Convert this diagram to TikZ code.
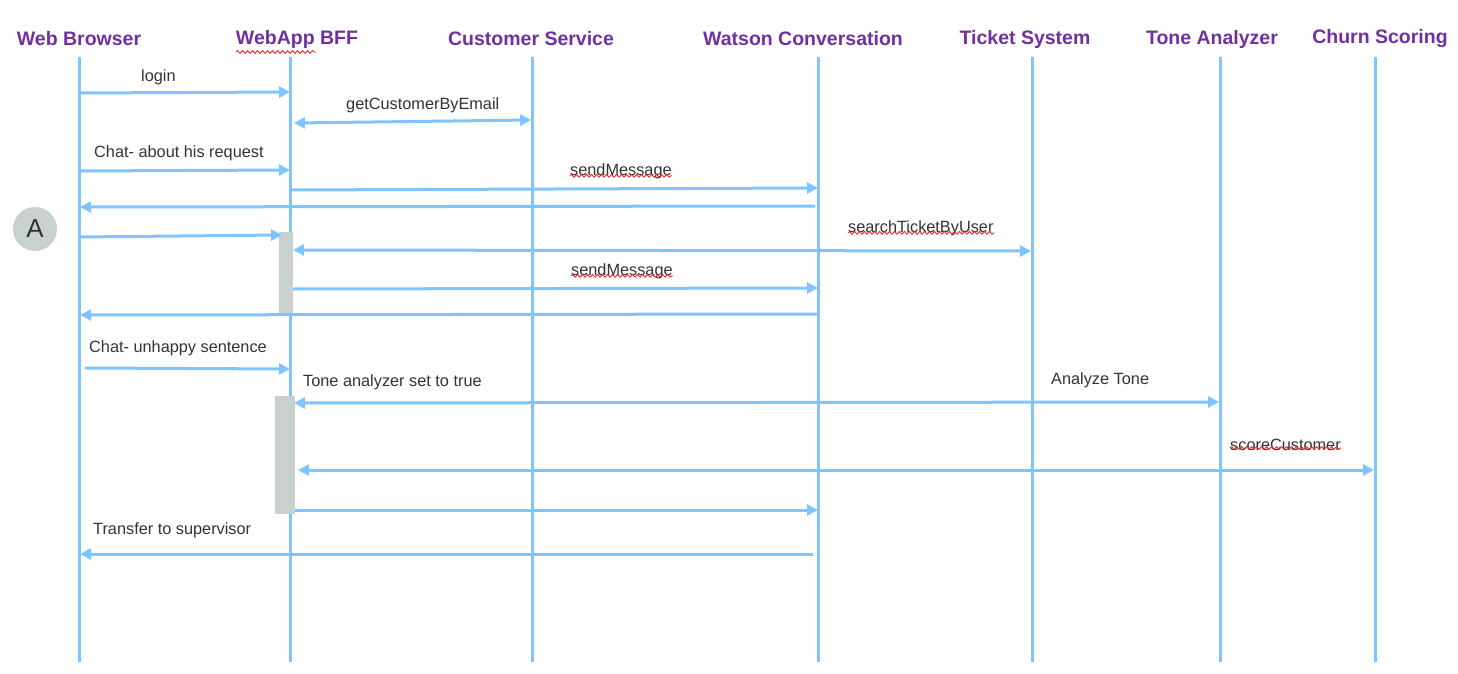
\documentclass[tikz,border=0pt]{standalone}
\usepackage{fontspec}
\setmainfont{Liberation Sans}
\usetikzlibrary{arrows.meta,decorations.pathmorphing}
\definecolor{life}{RGB}{128,196,255}
\definecolor{hdr}{RGB}{112,48,160}
\definecolor{actc}{RGB}{201,208,208}
\definecolor{txt}{RGB}{51,51,51}
\definecolor{spell}{RGB}{235,40,40}
\begin{document}
\begin{tikzpicture}[x=1pt,y=-1pt,
  header/.style={font=\fontsize{19.5}{22}\selectfont\bfseries, text=hdr, inner sep=0pt},
  lifeline/.style={draw=life, line width=3pt},
  msgline/.style={draw=life, line width=3pt, -{Triangle[length=11pt,width=11pt]}},
  dblline/.style={draw=life, line width=3pt, {Triangle[length=11pt,width=11pt]}-{Triangle[length=11pt,width=11pt]}},
  retline/.style={draw=life, line width=3pt, -{Triangle[length=11pt,width=11pt]}},
  lbl/.style={font=\fontsize{16.3}{18}\selectfont, text=txt, inner sep=0pt, anchor=west},
  actbox/.style={fill=actc, draw=none},
  squiggle/.style={draw=spell, line width=0.9pt, decorate, decoration={snake, segment length=5pt, amplitude=1.4pt}},
  marker/.style={circle, fill=actc, minimum size=44pt, inner sep=0pt, font=\fontsize{26}{28}\selectfont, text=txt}
]
\useasboundingbox (0,0) rectangle (1458,674);

% headers
\node[header] (hWB) at (79,39) {Web Browser};
\node[header] (hBFF) at (297,39) {WebApp BFF};
\node[header] (hCS) at (531,39) {Customer Service};
\node[header] (hWC) at (803,39) {Watson Conversation};
\node[header] (hTS) at (1025,39) {Ticket System};
\node[header] (hTA) at (1212,39) {Tone Analyzer};
\node[header] (hCH) at (1380,39) {Churn Scoring};
\draw[squiggle] (236,52) -- (316,52);

% lifelines
\coordinate (wbT) at (79,57);   \coordinate (wbB) at (79,662);
\coordinate (bffT) at (290,57); \coordinate (bffB) at (290,662);
\coordinate (csT) at (532,57);  \coordinate (csB) at (532,662);
\coordinate (wcT) at (818,57);  \coordinate (wcB) at (818,662);
\coordinate (tsT) at (1032,57); \coordinate (tsB) at (1032,662);
\coordinate (taT) at (1220,57); \coordinate (taB) at (1220,662);
\coordinate (chT) at (1375,57); \coordinate (chB) at (1375,662);
\foreach \a in {wb,bff,cs,wc,ts,ta,ch} {\draw[lifeline] (\a T) -- (\a B);}

% activation boxes
\fill[actbox] (279,232) rectangle (293,313);
\fill[actbox] (275,396) rectangle (295,514);

% marker A
\node[marker] (mA) at (35,229) {A};

% messages
\coordinate (m1a) at (79,93);   \coordinate (m1b) at (290,92);
\draw[msgline] (m1a) -- (m1b);
\node[lbl] (l1) at (141,77) {login};

\coordinate (m2a) at (294,123); \coordinate (m2b) at (531,120);
\draw[dblline] (m2a) -- (m2b);
\node[lbl] (l2) at (346,105) {getCustomerByEmail};

\coordinate (m3a) at (79,171);  \coordinate (m3b) at (290,170);
\draw[msgline] (m3a) -- (m3b);
\node[lbl] (l3) at (94,153) {Chat- about his request};

\coordinate (m4a) at (290,190); \coordinate (m4b) at (818,188);
\draw[msgline] (m4a) -- (m4b);
\node[lbl] (l4) at (570,171) {sendMessage};
\draw[squiggle] ([yshift=3pt]l4.south west) -- ([yshift=3pt]l4.south east);

\coordinate (m5a) at (815,206); \coordinate (m5b) at (80,207);
\draw[retline] (m5a) -- (m5b);

\coordinate (m6a) at (79,237);  \coordinate (m6b) at (282,235);
\draw[msgline] (m6a) -- (m6b);

\coordinate (m7a) at (293,250); \coordinate (m7b) at (1031,251);
\draw[dblline] (m7a) -- (m7b);
\node[lbl] (l7) at (848,228) {searchTicketByUser};
\draw[squiggle] ([yshift=3pt]l7.south west) -- ([yshift=3pt]l7.south east);

\coordinate (m8a) at (293,289); \coordinate (m8b) at (818,288);
\draw[msgline] (m8a) -- (m8b);
\node[lbl] (l8) at (571,271) {sendMessage};
\draw[squiggle] ([yshift=3pt]l8.south west) -- ([yshift=3pt]l8.south east);

\coordinate (m9a) at (818,314); \coordinate (m9b) at (80,315);
\draw[retline] (m9a) -- (m9b);

\coordinate (m10a) at (85,368); \coordinate (m10b) at (290,369);
\draw[msgline] (m10a) -- (m10b);
\node[lbl] (l10) at (89,348) {Chat- unhappy sentence};

\coordinate (m11a) at (294,403); \coordinate (m11b) at (1219,402);
\draw[dblline] (m11a) -- (m11b);
\node[lbl] (l11a) at (303,382) {Tone analyzer set to true};
\node[lbl] (l11b) at (1051,380) {Analyze Tone};

\coordinate (m12a) at (298,470); \coordinate (m12b) at (1374,470);
\draw[dblline] (m12a) -- (m12b);
\node[lbl] (l12) at (1230,445) {scoreCustomer};
\draw[squiggle] ([yshift=3pt]l12.south west) -- ([yshift=3pt]l12.south east);

\coordinate (m13a) at (295,510); \coordinate (m13b) at (818,510);
\draw[msgline] (m13a) -- (m13b);

\coordinate (m14a) at (813,554); \coordinate (m14b) at (80,554);
\draw[retline] (m14a) -- (m14b);
\node[lbl] (l14) at (93,530) {Transfer to supervisor};
\end{tikzpicture}
\end{document}
